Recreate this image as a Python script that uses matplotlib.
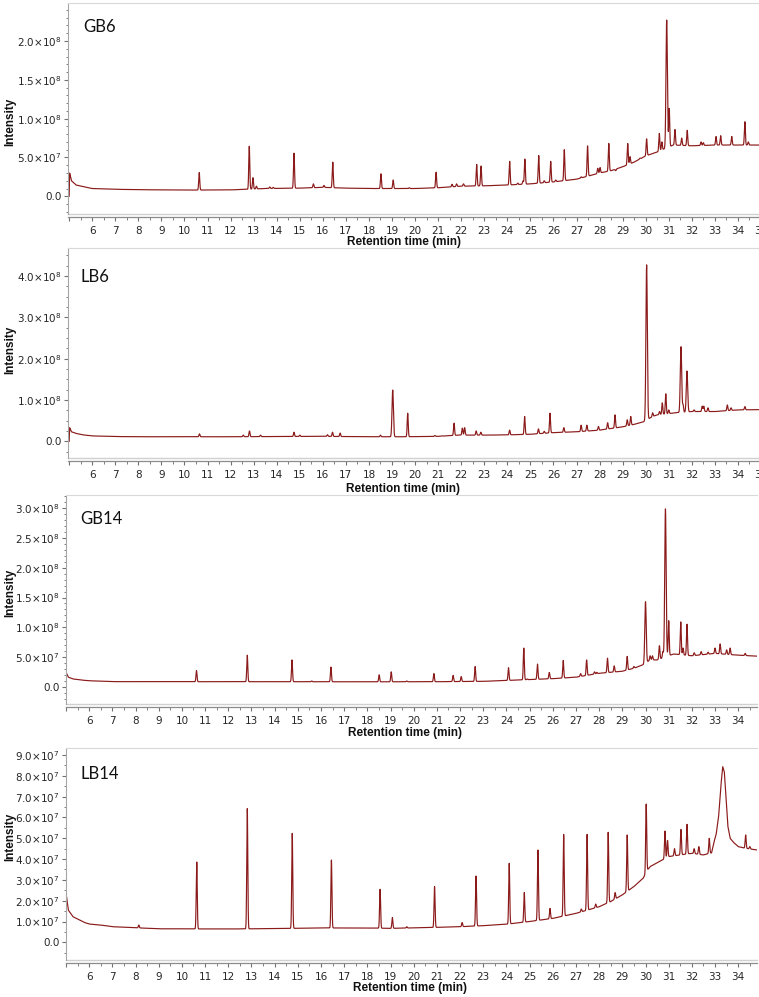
import numpy as np
import matplotlib
matplotlib.use("Agg")
import matplotlib.pyplot as plt
from matplotlib.ticker import MultipleLocator, FuncFormatter

UNIT = 1e7  # all intensities below are in units of 10^7

# ---------------- data ----------------
# GB6
gb6_base_t = [5.0, 5.02, 5.1, 5.3, 5.6, 6.0, 7, 8, 10, 12, 13.5, 15, 16, 17, 18, 19, 20, 21, 22, 23, 24, 25, 26, 27,
              28, 28.5, 29, 29.5, 30, 30.5, 30.8, 31.2, 32, 33, 34, 35.5]
gb6_base_y = [0.0, 3.0, 2.0, 1.45, 1.25, 1.0, 0.9, 0.85, 0.8, 0.82, 1.0, 1.05, 1.15, 1.05, 1.0, 1.0, 1.0, 1.1, 1.3,
              1.35, 1.45, 1.6, 1.85, 2.2, 3.0, 3.3, 3.8, 4.4, 5.2, 5.7, 6.1, 6.6, 6.5, 6.6, 6.6, 6.6]
gb6_peak_t = [10.64, 12.81, 12.97, 13.12, 13.7, 13.85, 14.75, 15.59, 16.05, 16.43, 18.52, 19.05, 19.75, 20.91, 21.6,
              21.8, 22.1, 22.67, 22.86, 24.1, 24.45, 24.68, 24.76, 25.36, 25.6, 25.88, 26.1, 26.47, 27.2, 27.48,
              27.92, 28.02, 28.4, 28.7, 29.22, 29.32, 29.75, 30.04, 30.59, 30.7, 30.91, 31.02, 31.27, 31.56, 31.8,
              32.4, 32.5, 33.05, 33.25, 33.73, 34.3, 34.45]
gb6_peak_y = [3.05, 6.45, 2.4, 1.3, 1.2, 1.15, 5.55, 1.6, 1.4, 4.4, 2.9, 2.1, 1.1, 3.1, 1.55,
              1.6, 1.6, 4.1, 3.9, 4.5, 1.7, 2.0, 4.8, 5.25, 2.0, 4.5, 2.1, 6.0, 2.5, 6.5,
              3.6, 3.7, 6.8, 3.3, 6.8, 5.1, 4.9, 7.4, 8.1, 7.0, 22.7, 11.3, 8.6, 7.5, 8.5,
              7.0, 6.9, 7.7, 7.8, 7.7, 9.6, 7.0]

# LB6
lb6_base_t = [5.0, 5.02, 5.1, 5.3, 5.6, 6.0, 7, 8, 10, 12, 14, 16, 18, 19.5, 21, 21.9, 23, 24, 25, 26, 27, 28, 29,
              29.5, 29.9, 30.3, 30.5, 31.3, 32, 33, 34, 35.5]
lb6_base_y = [0.0, 3.3, 2.3, 1.9, 1.55, 1.3, 1.15, 1.1, 1.1, 1.1, 1.15, 1.2, 1.1, 1.1, 1.2, 1.5, 1.5, 1.55, 1.7,
              2.1, 2.3, 2.7, 3.5, 4.1, 4.7, 6.0, 6.4, 6.9, 7.2, 7.2, 7.6, 7.7]
lb6_peak_t = [10.65, 12.55, 12.82, 13.3, 14.75, 15.0, 16.2, 16.42, 16.75, 18.5, 19.03, 19.68, 20.86, 21.15, 21.69,
              22.05, 22.15, 22.65, 22.85, 24.1, 24.75, 25.35, 25.6, 25.85, 26.45, 27.2, 27.45, 27.95, 28.35, 28.67,
              29.2, 29.35, 30.04, 30.3, 30.6, 30.72, 30.87, 31.0, 31.53, 31.62, 31.79, 32.1, 32.45, 32.52, 32.7,
              33.54, 33.7, 34.3]
lb6_peak_y = [1.8, 1.5, 2.5, 1.5, 2.2, 1.5, 1.6, 2.2, 2.0, 1.5, 12.4, 6.8, 1.4, 1.3, 4.4,
              3.2, 3.3, 2.5, 2.2, 2.7, 6.0, 3.0, 2.4, 6.8, 3.3, 3.9, 3.9, 3.6, 4.5, 6.4,
              5.2, 6.0, 42.7, 6.9, 7.2, 9.3, 11.5, 7.6, 22.9, 8.8, 17.0, 7.6, 8.5, 8.5, 8.1,
              8.8, 8.1, 8.4]

# GB14
gb14_base_t = [5.0, 5.02, 5.1, 5.3, 5.7, 6.0, 7, 10, 14, 18, 21, 23, 24, 25, 26, 27, 28, 29, 29.5, 29.9, 30.2, 30.5,
               31.2, 32, 33, 34, 35.5]
gb14_base_y = [0.0, 2.25, 1.6, 1.3, 1.1, 1.0, 0.85, 0.84, 0.84, 0.82, 0.84, 0.9, 1.05, 1.2, 1.35, 1.6, 2.25, 2.6,
               3.1, 3.7, 4.5, 4.5, 5.5, 5.2, 5.6, 5.3, 5.0]
gb14_peak_t = [10.63, 12.82, 14.75, 15.6, 16.43, 18.51, 19.03, 19.7, 20.87, 21.7, 22.05, 22.65, 24.09, 24.75, 24.9,
               25.34, 25.85, 26.45, 27.2, 27.46, 27.8, 27.9, 28.36, 28.65, 29.21, 29.5, 30.0, 30.2, 30.3, 30.6,
               30.75, 30.86, 31.0, 31.52, 31.62, 31.79, 32.1, 32.4, 32.7, 33.0, 33.22, 33.5, 33.65, 34.3]
gb14_peak_y = [2.7, 5.3, 4.5, 0.95, 3.3, 2.0, 2.5, 0.95, 2.2, 1.9, 1.7, 3.4, 3.2, 6.5, 1.3,
               3.8, 2.4, 4.4, 2.2, 4.5, 2.5, 2.4, 4.8, 3.5, 5.1, 3.4, 14.3, 5.2, 5.2, 6.9,
               5.9, 29.9, 11.1, 10.9, 6.5, 10.5, 5.7, 5.9, 5.8, 6.5, 7.2, 6.2, 6.5, 5.6]

# LB14
lb14_base_t = [5.0, 5.02, 5.1, 5.3, 5.6, 5.8, 6.0, 6.5, 7, 8, 9, 12, 14, 16, 18, 19, 21, 22, 23, 24, 25, 26, 27, 28,
               28.5, 29, 29.5, 29.9, 30.1, 30.2, 30.6, 31.0, 31.5, 32.0, 32.5, 32.85, 32.95, 33.05, 33.15, 33.25,
               33.33, 33.4, 33.47, 33.55, 33.65, 33.8, 34.0, 34.3, 34.8, 35.5]
lb14_base_y = [0.0, 2.2, 1.55, 1.23, 1.07, 0.95, 0.88, 0.83, 0.75, 0.70, 0.65, 0.64, 0.66, 0.69, 0.69, 0.67, 0.72,
               0.75, 0.80, 0.87, 1.0, 1.15, 1.39, 1.71, 1.96, 2.28, 2.68, 3.08, 3.5, 3.64, 3.88, 4.12, 4.2, 4.28,
               4.2, 4.3, 4.8, 5.2, 6.0, 7.5, 8.45, 8.2, 7.0, 5.6, 5.0, 4.8, 4.6, 4.52, 4.44, 4.4]
lb14_peak_t = [8.14, 10.64, 12.82, 14.76, 16.45, 18.55, 19.08, 19.7, 20.9, 22.09, 22.69, 24.12, 24.77, 25.36,
               25.88, 26.47, 27.23, 27.48, 27.85, 28.39, 28.69, 29.21, 30.03, 30.84, 30.95, 31.25, 31.53, 31.79,
               32.1, 32.3, 32.75, 34.32, 34.5]
lb14_peak_y = [0.83, 3.86, 6.43, 5.24, 3.96, 2.55, 1.19, 0.75, 2.68, 0.95, 3.19, 3.80, 2.39, 4.44,
               1.63, 5.19, 1.6, 5.19, 1.84, 5.29, 2.39, 5.16, 6.65, 5.35, 4.9, 4.5, 5.43, 5.67,
               4.5, 4.6, 5.0, 5.16, 4.6]

sample_names = ["GB6", "LB6", "GB14", "LB14"]
y_major = [5e7, 1e8, 5e7, 1e7]
y_minor = [1e7, 2.5e7, 1e7, 5e6]
y_tops = [2.0e8, 4.0e8, 3.0e8, 9.0e7]

# ---------------- figure ----------------
W, H = 759, 997
fig = plt.figure(figsize=(W / 100, H / 100), dpi=100)

LINE = "#8b1a1a"

# panel layout in pixels: left, right, top, bottom, xmin, xmax, ymin, ymax
layout = [
    (68, 770, 3, 214, 4.95, 35.39, -0.228e8, 2.489e8),
    (68, 770, 248, 458, 4.95, 35.39, -0.404e8, 4.677e8),
    (66, 757, 495, 704, 5.0, 34.81, -0.291e8, 3.224e8),
    (66, 757, 748, 960, 5.0, 34.81, -0.85e7, 9.34e7),
]
name_pos = [(83, 27), (80, 277), (80, 519), (81, 774)]
ylab_pos = [122, 350, 593, 837]
xlab_pos = [(404, 242), (403, 489), (405, 733), (410, 988)]

data = [
    (gb6_base_t, gb6_base_y, gb6_peak_t, gb6_peak_y),
    (lb6_base_t, lb6_base_y, lb6_peak_t, lb6_peak_y),
    (gb14_base_t, gb14_base_y, gb14_peak_t, gb14_peak_y),
    (lb14_base_t, lb14_base_y, lb14_peak_t, lb14_peak_y),
]


def sci_fmt(v, pos):
    if abs(v) < 1:
        return "0.0"
    e = int(np.floor(np.log10(abs(v)) + 1e-9))
    m = v / 10 ** e
    return r"$\mathregular{%.1f{\times}10^{%d}}$" % (m, e)


def trace(bt, by, pt, py):
    bt = np.asarray(bt); by = np.asarray(by) * UNIT
    t = np.arange(bt[0], bt[-1], 0.003)
    y = np.interp(t, bt, by)
    for tc, ap in zip(pt, py):
        h = ap * UNIT - np.interp(tc, bt, by)
        sig = 0.022 if ap * UNIT < 1.2e8 else 0.03
        y = y + h * np.exp(-0.5 * ((t - tc) / sig) ** 2)
    return t, y


for i in range(4):
    l, r, tp, bt_px, x0, x1, y0, y1 = layout[i]
    ax = fig.add_axes([l / W, 1 - bt_px / H, (r - l) / W, (bt_px - tp) / H])
    t, y = trace(*data[i])
    ax.plot(t, y, color=LINE, lw=0.85, solid_joinstyle="round")
    ax.set_xlim(x0, x1)
    ax.set_ylim(y0, y1)

    for s in ["right"]:
        ax.spines[s].set_visible(False)
    ax.spines["top"].set_color("#d9d9d9")
    ax.spines["left"].set_color("#a6a6a6")
    ax.spines["bottom"].set_color("#8c8c8c")
    ax.spines["bottom"].set_position(("outward", 2.5))
    ax.spines["bottom"].set_linewidth(0.9)
    ax.plot([0, 1], [0, 0], transform=ax.transAxes, color="#d0d0d0", lw=1.0, clip_on=False)

    ax.xaxis.set_major_locator(MultipleLocator(1))
    ax.xaxis.set_minor_locator(MultipleLocator(0.5))
    ax.xaxis.set_major_formatter(FuncFormatter(lambda v, p: "" if v < 5.5 else "%d" % round(v)))
    ax.yaxis.set_major_locator(MultipleLocator(y_major[i]))
    ax.yaxis.set_minor_locator(MultipleLocator(y_minor[i]))
    ax.yaxis.set_major_formatter(FuncFormatter(sci_fmt))
    ax.tick_params(axis="both", which="major", direction="out", length=3, width=0.8, color="#707070",
                   labelsize=7.5, labelcolor="#262626", pad=1.5)
    ax.tick_params(axis="both", which="minor", direction="out", length=1.8, width=0.7, color="#808080")
    ax.tick_params(axis="x", which="major", pad=3)
    for lab in ax.get_yticklabels():
        lab.set_fontfamily("DejaVu Sans")

    nx, ny = name_pos[i]
    fig.text(nx / W, 1 - ny / H, sample_names[i], fontsize=12, family="Lato", ha="left", va="center",
             color="#111111")
    fig.text(10 / W, 1 - ylab_pos[i] / H, "Intensity", rotation=90, fontsize=8.5, fontweight="bold",
             family="Liberation Sans", ha="center", va="center", color="#111111")
    lx, ly = xlab_pos[i]
    fig.text(lx / W, 1 - ly / H, "Retention time (min)", fontsize=8.5, fontweight="bold",
             family="Liberation Sans", ha="center", va="center", color="#111111")

fig.savefig("out.png", dpi=100)
